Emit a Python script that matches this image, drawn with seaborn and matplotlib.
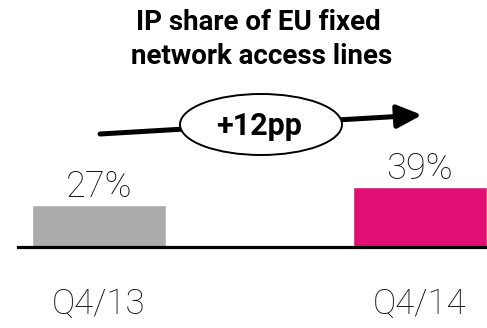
import matplotlib
matplotlib.use("Agg")
import matplotlib.pyplot as plt
from matplotlib.patches import Ellipse, FancyArrowPatch
import seaborn as sns
import pandas as pd

# Data
quarters = ["Q4/13", "Q4/14"]
ip_share = [27, 39]
bar_colors = ["#ABABAB", "#E10E73"]
change_label = "+12pp"
title_lines = ["IP share of EU fixed", "network access lines"]

sns.set_theme(style="white")
plt.rcParams["font.family"] = ["Roboto", "DejaVu Sans"]

W, H = 487, 328
fig = plt.figure(figsize=(W / 100, H / 100), dpi=100)
ax = fig.add_axes([18 / W, 81 / H, 1 - 18 / W, 1 - 81 / H])

df = pd.DataFrame({"quarter": quarters, "share": ip_share})
sns.barplot(data=df, x="quarter", y="share", hue="quarter",
            palette=bar_colors, legend=False, width=0.417,
            saturation=1, ax=ax, zorder=2)

ax.set_xlim(-0.252, 1.209)
ax.set_ylim(0, 160.4)

for spine in ["left", "right", "top"]:
    ax.spines[spine].set_visible(False)
ax.spines["bottom"].set_color("black")
ax.spines["bottom"].set_linewidth(2.3)
ax.spines["bottom"].set_zorder(3)

ax.set_yticks([])
ax.set_xlabel("")
ax.set_ylabel("")
ax.tick_params(axis="x", length=0, pad=29, labelsize=25, labelcolor="#111111")
for lbl in ax.get_xticklabels():
    lbl.set_fontweight("light")

# value labels above bars
for i, v in enumerate(ip_share):
    ax.annotate(f"{v}%", xy=(i, v), xytext=(0, 13), textcoords="offset points",
                ha="center", va="center", fontsize=26, fontweight="light",
                color="#111111")

# title
fig.text(258 / W, 1 - 22 / H, title_lines[0], ha="center", va="center",
         fontsize=20, fontweight="bold", color="black")
fig.text(262 / W, 1 - 56 / H, title_lines[1], ha="center", va="center",
         fontsize=20, fontweight="bold", color="black")

# growth arrow with ellipse badge
arrow = FancyArrowPatch((100 / W, 1 - 134 / H), (422 / W, 1 - 115 / H),
                        transform=fig.transFigure,
                        arrowstyle="-|>,head_length=0.75,head_width=0.35",
                        mutation_scale=20, linewidth=3.6, color="black",
                        shrinkA=0, shrinkB=0)
fig.add_artist(arrow)
ell = Ellipse((261 / W, 1 - 124.5 / H), 162 / W, 61 / H,
              transform=fig.transFigure, facecolor="white",
              edgecolor="black", linewidth=1.4, zorder=5)
fig.add_artist(ell)
fig.text(259 / W, 1 - 126 / H, change_label, ha="center", va="center",
         fontsize=22, fontweight="bold", color="black", zorder=6)

fig.savefig("out.png", dpi=100)
